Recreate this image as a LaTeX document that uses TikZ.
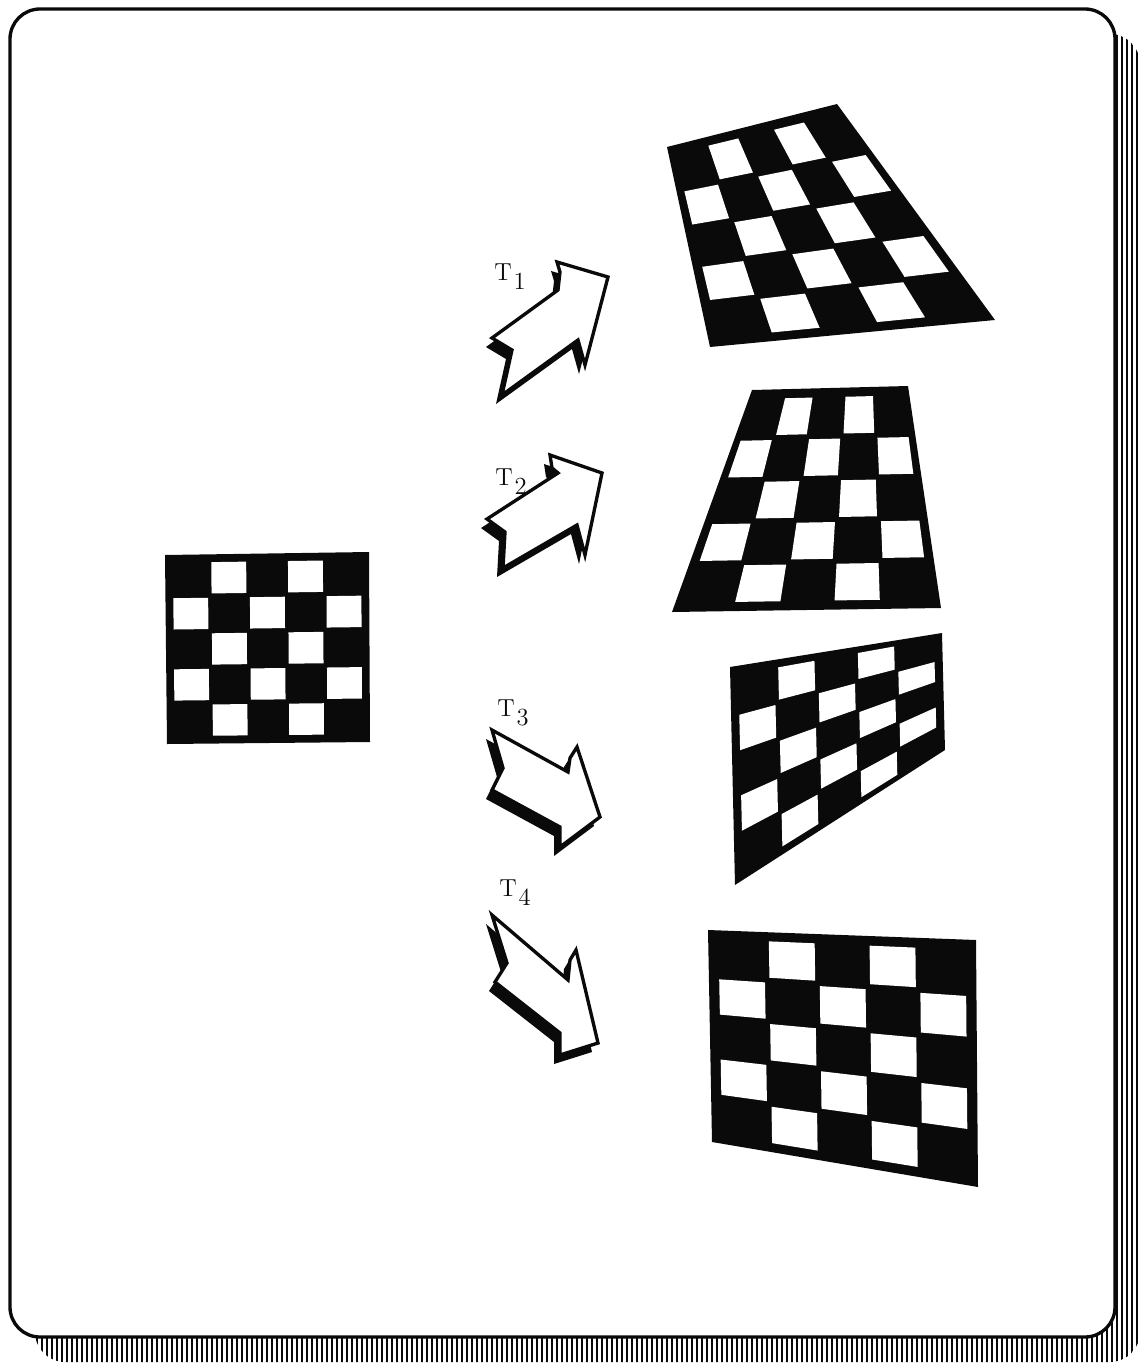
\documentclass[tikz,border=0pt]{standalone}
\usetikzlibrary{calc}
\definecolor{ink}{HTML}{0A0A0A}
\tikzset{
  frame/.style={draw=ink, line width=1.9pt, fill=white, rounded corners=0.6cm},
  hatch/.style={draw=ink, line width=1.3pt},
  board/.style={fill=ink},
  cellw/.style={fill=white},
  arrowbody/.style={draw=ink, fill=white, line width=1.9pt, line join=miter},
  arrowshade/.style={fill=ink},
  lbl/.style={font=\fontsize{14}{16}\selectfont, text=ink, inner sep=1pt},
}
\newcommand{\blockarrow}[1]{%
  \fill[arrowshade, shift={(-6,9)}] #1;
  \draw[arrowbody] #1;}
\def\boardQuads{b0/165/555/369/552/370/742/167/744, b1/667/147/837/104/995/320/710/347, b2/752/390/908/386/941/608/672/612, b3/730/667/942/633/945/750/735/885, b4/708/930/976/940/978/1187/712/1142}
\def\tLabels{t1/510/277/1, t2/511/482/2, t3/513/713/3, t4/515/893/4}

\begin{document}
\begin{tikzpicture}[x=0.02cm, y=-0.02cm]
  \useasboundingbox (0,0) rectangle (1142,1366);
  \begin{scope}
    \clip[rounded corners=0.6cm] (35,34) rectangle (1140,1362);
    \foreach \x in {12,17,...,1140}
      \draw[hatch] (\x,0) -- (\x,1366);
  \end{scope}
  \draw[frame] (10,9) rectangle (1115,1337);

  \foreach \n/\ax/\ay/\bx/\by/\cx/\cy/\dx/\dy in \boardQuads {
    \coordinate (\n-tl) at (\ax,\ay);
    \coordinate (\n-tr) at (\bx,\by);
    \coordinate (\n-br) at (\cx,\cy);
    \coordinate (\n-bl) at (\dx,\dy);
    \fill[board] (\n-tl) -- (\n-tr) -- (\n-br) -- (\n-bl) -- cycle;
    \foreach \r in {0,...,4} {
      \foreach \c in {0,...,4} {
        \pgfmathtruncatemacro{\odd}{mod(\r+\c,2)}
        \ifnum\odd=1
          \pgfmathsetmacro{\ua}{0.03+(\c+0.045)*0.188}
          \pgfmathsetmacro{\ub}{0.03+(\c+0.955)*0.188}
          \pgfmathsetmacro{\va}{0.03+(\r+0.06)*0.188}
          \pgfmathsetmacro{\vb}{0.03+(\r+0.94)*0.188}
          \fill[cellw] ($($(\n-tl)!\ua!(\n-tr)$)!\va!($(\n-bl)!\ua!(\n-br)$)$)
            -- ($($(\n-tl)!\ub!(\n-tr)$)!\va!($(\n-bl)!\ub!(\n-br)$)$)
            -- ($($(\n-tl)!\ub!(\n-tr)$)!\vb!($(\n-bl)!\ub!(\n-br)$)$)
            -- ($($(\n-tl)!\ua!(\n-tr)$)!\vb!($(\n-bl)!\ua!(\n-br)$)$) -- cycle;
        \fi
      }
    }
  }

  \blockarrow{(492,338) -- (558,290) -- (560,272) -- (557,262) -- (608,277) -- (585,365) -- (578,340) -- (502,395) -- (512,350) -- cycle}
  \blockarrow{(487,519) -- (558,473) -- (552,468) -- (550,455) -- (602,473) -- (585,555) -- (577,525) -- (503,568) -- (505,532) -- cycle}
  \blockarrow{(492,730) -- (568,772) -- (570,758) -- (577,747) -- (600,817) -- (560,847) -- (560,827) -- (492,790) -- (503,768) -- cycle}
  \blockarrow{(492,915) -- (568,980) -- (570,960) -- (576,950) -- (598,1043) -- (560,1055) -- (560,1033) -- (495,982) -- (507,963) -- cycle}

  \foreach \n/\x/\y/\k in \tLabels
    \node[lbl] (\n) at (\x,\y) {T\kern1pt\raisebox{-5pt}{\k}};
\end{tikzpicture}
\end{document}
